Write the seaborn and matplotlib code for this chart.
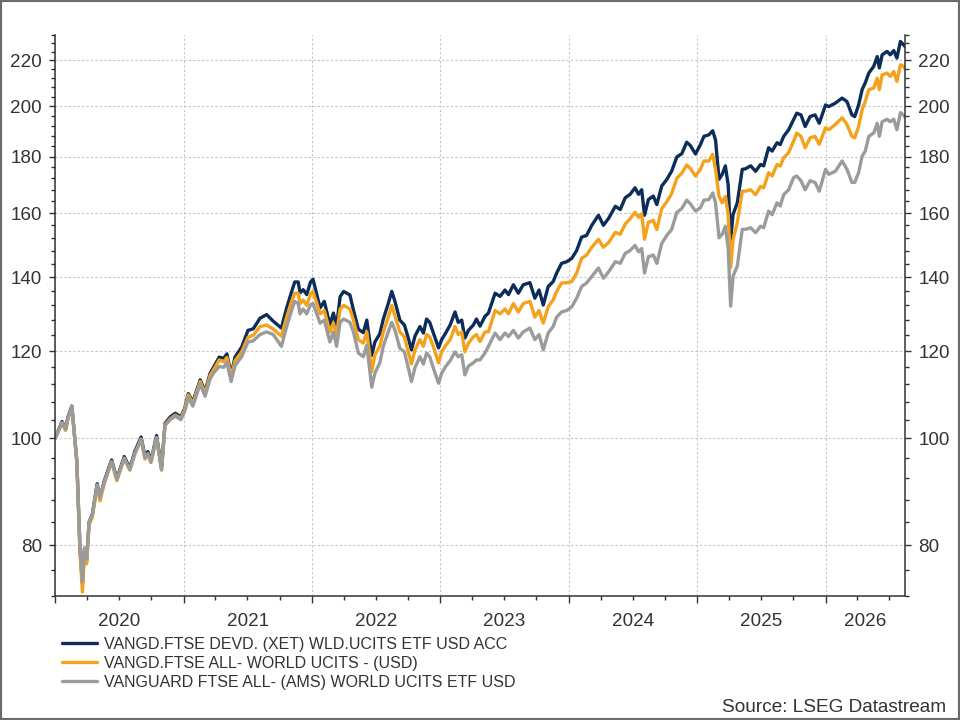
import pandas as pd
import numpy as np
import matplotlib
matplotlib.use("Agg")
import matplotlib.pyplot as plt
import matplotlib.dates as mdates
import matplotlib.ticker as mticker
from matplotlib.lines import Line2D
from matplotlib.patches import Rectangle
import seaborn as sns

# ---------------------------------------------------------------------------
# Data (rebased to 100, log scale)
# ---------------------------------------------------------------------------
dates = [
    "2020-01-01", "2020-01-10", "2020-01-21", "2020-01-31", "2020-02-07", "2020-02-18",
    "2020-03-03", "2020-03-12", "2020-03-19", "2020-03-25", "2020-03-31", "2020-04-07",
    "2020-04-16", "2020-04-30", "2020-05-08", "2020-05-20", "2020-06-10", "2020-06-25",
    "2020-07-16", "2020-08-01", "2020-08-15", "2020-09-02", "2020-09-13", "2020-09-21",
    "2020-09-30", "2020-10-16", "2020-10-30", "2020-11-09", "2020-11-24", "2020-12-08",
    "2020-12-24",
    "2021-01-04", "2021-01-14", "2021-01-27", "2021-02-17", "2021-03-03", "2021-03-17",
    "2021-03-27", "2021-04-12", "2021-04-25", "2021-05-04", "2021-05-16", "2021-05-27",
    "2021-06-15", "2021-07-03", "2021-07-18", "2021-08-06", "2021-08-25", "2021-09-13",
    "2021-10-06", "2021-10-21", "2021-11-04", "2021-11-13", "2021-11-23", "2021-11-28",
    "2021-12-07", "2021-12-17", "2021-12-28",
    "2022-01-04", "2022-01-24", "2022-02-05", "2022-02-21", "2022-03-03", "2022-03-12",
    "2022-03-22", "2022-04-01", "2022-04-19", "2022-04-29", "2022-05-13", "2022-05-27",
    "2022-06-06", "2022-06-20", "2022-06-29", "2022-07-13", "2022-07-23", "2022-08-06",
    "2022-08-16", "2022-08-25", "2022-09-08", "2022-09-21", "2022-10-02", "2022-10-11",
    "2022-10-21", "2022-11-04", "2022-11-14", "2022-11-23", "2022-12-02", "2022-12-12",
    "2022-12-27",
    "2023-01-05", "2023-01-17", "2023-01-29", "2023-02-12", "2023-02-21", "2023-03-03",
    "2023-03-12", "2023-03-22", "2023-04-05", "2023-04-14", "2023-04-24", "2023-05-08",
    "2023-05-18", "2023-06-06", "2023-06-20", "2023-07-04", "2023-07-14", "2023-07-28",
    "2023-08-11", "2023-08-25", "2023-09-13", "2023-09-27", "2023-10-09", "2023-10-21",
    "2023-11-04", "2023-11-18", "2023-11-28", "2023-12-12", "2023-12-27",
    "2024-01-10", "2024-01-24", "2024-02-07", "2024-02-21", "2024-03-07", "2024-03-26",
    "2024-04-09", "2024-04-24", "2024-05-13", "2024-05-27", "2024-06-10", "2024-06-24",
    "2024-07-08", "2024-07-18", "2024-07-27", "2024-08-04", "2024-08-15", "2024-08-29",
    "2024-09-08", "2024-09-22", "2024-10-06", "2024-10-20", "2024-11-04", "2024-11-18",
    "2024-12-02", "2024-12-12", "2024-12-27",
    "2025-01-10", "2025-01-20", "2025-02-03", "2025-02-14", "2025-02-22", "2025-03-04",
    "2025-03-13", "2025-03-22", "2025-03-30", "2025-04-06", "2025-04-13", "2025-04-25",
    "2025-05-09", "2025-05-18", "2025-06-02", "2025-06-16", "2025-06-30", "2025-07-09",
    "2025-07-23", "2025-08-02", "2025-08-16", "2025-08-25", "2025-09-04", "2025-09-18",
    "2025-10-02", "2025-10-11", "2025-10-23", "2025-11-04", "2025-11-18", "2025-12-02",
    "2025-12-14",
    "2026-01-01", "2026-01-10", "2026-01-29", "2026-02-17", "2026-03-03", "2026-03-17",
    "2026-03-25", "2026-04-05", "2026-04-15", "2026-04-24", "2026-05-04", "2026-05-18",
    "2026-05-28", "2026-06-03", "2026-06-11", "2026-06-25", "2026-07-04", "2026-07-14",
    "2026-07-23", "2026-08-02", "2026-08-11", "2026-08-15",
]

devd_xet_acc = [
    100.0, 101.6, 103.6, 102.0, 104.6, 107.0,
    95.5, 79.5, 73.8, 79.5, 77.5, 84.0,
    85.3, 91.0, 88.3, 91.5, 95.6, 92.0,
    96.3, 94.0, 97.3, 100.3, 96.3, 97.3,
    95.5, 100.6, 94.0, 103.2, 104.6, 105.4,
    104.6,
    106.5, 109.8, 107.9, 113.0, 110.3, 114.5,
    116.0, 118.5, 118.2, 119.3, 114.2, 118.5,
    121.0, 125.3, 125.7, 128.5, 129.5, 127.7,
    125.9, 131.3, 135.8, 138.6, 138.6, 135.5,
    136.4, 135.0, 138.6,
    139.4, 131.3, 133.1, 126.8, 129.9, 126.3,
    134.4, 135.9, 134.9, 130.7, 125.6, 124.7,
    128.0, 118.9, 122.3, 124.4, 128.3, 132.5,
    135.9, 133.1, 128.0, 126.7, 123.3, 120.3,
    123.8, 126.3, 124.6, 128.3, 127.4, 124.7,
    120.8,
    122.9, 124.7, 126.7, 130.2, 127.4, 128.0,
    123.3, 125.3, 126.7, 128.3, 126.4, 129.0,
    129.9, 135.4, 134.5, 136.3, 135.0, 137.8,
    135.4, 137.8, 138.4, 134.0, 136.3, 132.1,
    137.3, 138.7, 141.2, 144.1, 144.6,
    145.6, 148.0, 152.2, 152.7, 156.0, 159.3,
    156.0, 158.3, 162.3, 161.2, 165.2, 166.4,
    168.7, 166.4, 168.0, 159.3, 164.6, 165.8,
    162.9, 169.3, 171.6, 174.6, 179.9, 181.1,
    185.5, 184.3, 181.0,
    184.6, 187.8, 188.4, 190.0, 186.4, 171.7,
    173.5, 176.6, 169.7, 151.5, 159.6, 163.5,
    175.3, 175.5, 176.6, 174.6, 177.1, 176.6,
    183.4, 182.1, 185.3, 184.6, 187.8, 190.4,
    194.4, 197.1, 196.4, 191.7, 195.7, 196.4,
    193.0,
    200.5, 199.8, 201.3, 203.4, 201.9, 196.4,
    195.7, 200.5, 207.0, 210.0, 214.3, 217.3,
    221.8, 216.6, 222.6, 224.2, 222.6, 224.6,
    221.1, 228.9, 227.3, 226.5,
]

all_world_usd = [
    100.0, 101.4, 103.3, 101.7, 104.3, 106.8,
    95.2, 79.0, 72.6, 79.0, 77.0, 83.5,
    84.8, 90.5, 87.8, 91.0, 95.2, 91.6,
    95.9, 93.6, 96.8, 99.8, 95.8, 96.8,
    95.1, 100.1, 93.6, 102.9, 104.2, 105.0,
    104.3,
    106.2, 109.5, 107.5, 112.6, 109.9, 114.0,
    115.4, 117.8, 117.4, 118.4, 113.8, 117.6,
    119.8, 123.5, 124.0, 126.3, 126.7, 125.6,
    123.8, 128.8, 133.1, 135.4, 135.4, 132.5,
    133.5, 132.0, 135.2,
    135.9, 129.7, 130.6, 124.9, 127.2, 124.2,
    131.0, 132.0, 131.0, 128.0, 122.9, 122.0,
    124.9, 115.0, 119.1, 121.2, 124.9, 128.8,
    132.0, 129.2, 124.9, 123.6, 119.8, 116.8,
    120.3, 122.9, 121.2, 124.2, 123.6, 121.2,
    117.1,
    119.8, 121.5, 122.9, 126.3, 124.2, 124.9,
    119.8, 122.0, 123.6, 124.2, 122.4, 124.9,
    124.9, 130.6, 129.7, 131.0, 129.7, 132.5,
    130.2, 132.5, 133.1, 128.8, 130.6, 127.2,
    131.6, 133.5, 135.9, 138.3, 138.4,
    138.7, 141.2, 145.6, 146.6, 149.0, 151.5,
    149.0, 150.5, 153.7, 153.1, 156.4, 158.1,
    160.3, 158.6, 159.8, 151.5, 157.0, 157.6,
    154.6, 161.5, 163.8, 166.6, 172.1, 173.9,
    176.9, 175.7, 172.9,
    175.3, 178.4, 178.4, 180.9, 175.3, 165.7,
    163.5, 165.7, 159.6, 142.9, 151.5, 156.9,
    167.5, 167.5, 168.0, 166.3, 169.2, 168.7,
    174.1, 172.9, 177.1, 176.5, 179.6, 181.5,
    185.9, 189.1, 187.8, 183.4, 187.2, 187.8,
    184.7,
    191.2, 190.4, 192.5, 195.2, 192.5, 187.8,
    187.2, 191.7, 198.5, 201.9, 207.0, 207.7,
    212.0, 207.0, 213.5, 214.3, 212.8, 215.0,
    210.6, 218.0, 217.3, 216.1,
]

all_world_ams = [
    100.0, 101.5, 103.4, 101.9, 104.4, 106.9,
    95.4, 79.8, 74.2, 79.6, 77.8, 84.0,
    85.2, 90.8, 88.3, 91.3, 95.3, 91.8,
    96.0, 93.7, 96.9, 99.9, 96.0, 96.9,
    95.2, 100.2, 93.7, 102.8, 104.0, 104.8,
    104.0,
    105.8, 108.9, 107.0, 112.0, 109.2, 113.2,
    114.6, 116.2, 116.0, 117.2, 112.6, 116.4,
    118.6, 122.3, 122.6, 124.2, 124.9, 124.2,
    121.2, 126.3, 130.6, 133.1, 132.5, 129.7,
    131.0, 129.7, 132.2,
    132.5, 127.2, 128.0, 122.3, 124.9, 121.2,
    127.4, 128.3, 127.4, 124.9, 119.5, 118.6,
    121.5, 111.3, 114.6, 117.1, 121.2, 124.9,
    127.4, 125.4, 120.7, 119.8, 115.9, 112.6,
    115.9, 118.6, 116.8, 119.5, 118.6, 115.9,
    112.2,
    114.6, 116.3, 117.6, 119.8, 118.6, 119.1,
    114.2, 116.3, 117.1, 117.8, 117.8, 119.5,
    121.2, 124.6, 122.9, 124.6, 123.7, 125.3,
    123.3, 124.9, 125.9, 122.9, 124.2, 120.3,
    124.6, 126.3, 128.8, 130.2, 130.6,
    131.6, 134.0, 137.3, 138.3, 140.2, 142.7,
    139.7, 141.6, 144.6, 144.1, 147.1, 148.0,
    149.6, 147.6, 148.6, 141.2, 146.1, 146.6,
    144.1, 150.2, 152.7, 154.6, 160.3, 161.5,
    164.4, 163.2, 160.7,
    161.8, 164.4, 164.6, 166.9, 163.5, 152.0,
    153.1, 155.7, 148.5, 131.8, 140.3, 143.3,
    154.7, 154.7, 155.2, 153.6, 155.7, 155.2,
    160.7, 159.5, 163.5, 162.4, 166.3, 168.0,
    172.3, 172.9, 171.2, 168.0, 171.2, 170.6,
    167.5,
    175.3, 173.5, 174.6, 178.4, 175.3, 170.6,
    170.6, 174.1, 180.2, 182.1, 187.8, 189.1,
    193.0, 187.8, 193.6, 194.6, 193.6, 194.6,
    190.4, 197.3, 196.3, 195.4,
]

series_names = [
    "VANGD.FTSE DEVD. (XET) WLD.UCITS ETF USD ACC",
    "VANGD.FTSE ALL- WORLD UCITS - (USD)",
    "VANGUARD FTSE ALL- (AMS) WORLD UCITS ETF USD",
]
series_colors = ["#0c2d5a", "#f4a11c", "#9b9b9b"]

y_major = [80, 100, 120, 140, 160, 180, 200, 220]
y_min, y_max = 72, 232
x_start, x_end = "2020-01-01", "2026-08-15"
year_labels = ["2020", "2021", "2022", "2023", "2024", "2025", "2026"]

# ---------------------------------------------------------------------------
# Long-form frame for seaborn
# ---------------------------------------------------------------------------
dt = pd.to_datetime(dates)
df = pd.concat([
    pd.DataFrame({"date": dt, "value": vals, "series": name})
    for name, vals in zip(series_names, [devd_xet_acc, all_world_usd, all_world_ams])
], ignore_index=True)

sns.set_theme(style="white")
plt.rcParams["font.family"] = ["Liberation Sans", "DejaVu Sans"]

TXT = "#333333"
fig = plt.figure(figsize=(9.6, 7.2), dpi=100)
ax = fig.add_axes([55 / 960, 1 - 596 / 720, 850 / 960, 561 / 720])

sns.lineplot(data=df, x="date", y="value", hue="series", hue_order=series_names,
             palette=series_colors, linewidth=2.4, legend=False, estimator=None,
             sort=False, ax=ax)

# y axis: log scale, labels on both sides
ax.set_yscale("log")
ax.set_ylim(y_min, y_max)
ax.yaxis.set_major_locator(mticker.FixedLocator(y_major))
ax.yaxis.set_major_formatter(mticker.FuncFormatter(lambda v, p: f"{v:.0f}"))
minor_y = [v for v in range(y_min, y_max + 1, 4) if v not in y_major]
ax.yaxis.set_minor_locator(mticker.FixedLocator(minor_y))
ax.yaxis.set_minor_formatter(mticker.NullFormatter())

# x axis: year boundaries as major ticks, quarters as minor
ax.set_xlim(pd.Timestamp(x_start), pd.Timestamp(x_end))
ax.xaxis.set_major_locator(mdates.YearLocator())
ax.xaxis.set_major_formatter(mticker.NullFormatter())
ax.xaxis.set_minor_locator(mdates.MonthLocator(bymonth=[4, 7, 10]))
ax.xaxis.set_minor_formatter(mticker.NullFormatter())

ax.set_xlabel("")
ax.set_ylabel("")

ax.tick_params(axis="y", which="both", left=True, right=True, labelleft=True,
               labelright=True, direction="out", colors=TXT, labelsize=13.6, pad=5)
ax.tick_params(axis="y", which="major", length=4.5, width=1)
ax.tick_params(axis="y", which="minor", length=3, width=1)
ax.tick_params(axis="x", which="both", bottom=True, direction="out", colors=TXT)
ax.tick_params(axis="x", which="major", length=5, width=1)
ax.tick_params(axis="x", which="minor", length=3, width=1)

for side in ["left", "right", "bottom"]:
    ax.spines[side].set_visible(True)
    ax.spines[side].set_color(TXT)
    ax.spines[side].set_linewidth(1.1)
ax.spines["top"].set_visible(False)

ax.grid(True, which="major", axis="both", color="#c4c4c4", linestyle=(0, (2, 2)),
        linewidth=0.8)
ax.set_axisbelow(True)

# year labels centred on the visible part of each year
lo, hi = pd.Timestamp(x_start), pd.Timestamp(x_end)
for yl in year_labels:
    a = max(pd.Timestamp(f"{yl}-01-01"), lo)
    b = min(pd.Timestamp(f"{int(yl) + 1}-01-01"), hi)
    mid = a + (b - a) / 2
    ax.annotate(yl, xy=(mdates.date2num(mid), 0), xycoords=("data", "axes fraction"),
                xytext=(0, -18.5), textcoords="offset points", ha="center", va="center",
                fontsize=13.6, color=TXT)

# legend below the plot
handles = [Line2D([], [], color=c, linewidth=2.4) for c in series_colors]
fig.legend(handles, series_names, loc="upper left",
           bbox_to_anchor=(62 / 960, 1 - 637 / 720), frameon=False, fontsize=11.5,
           handlelength=2.2, handletextpad=0.4, labelspacing=0.25, borderpad=0,
           borderaxespad=0, labelcolor=TXT)

fig.text(946 / 960, 1 - 707 / 720, "Source: LSEG Datastream", ha="right", va="center",
         fontsize=13.7, color=TXT)

fig.patches.append(Rectangle((0, 0), 1, 1, transform=fig.transFigure, fill=False,
                             edgecolor="#6b6b6b", linewidth=3, zorder=10))

fig.savefig("out.png", dpi=100)
